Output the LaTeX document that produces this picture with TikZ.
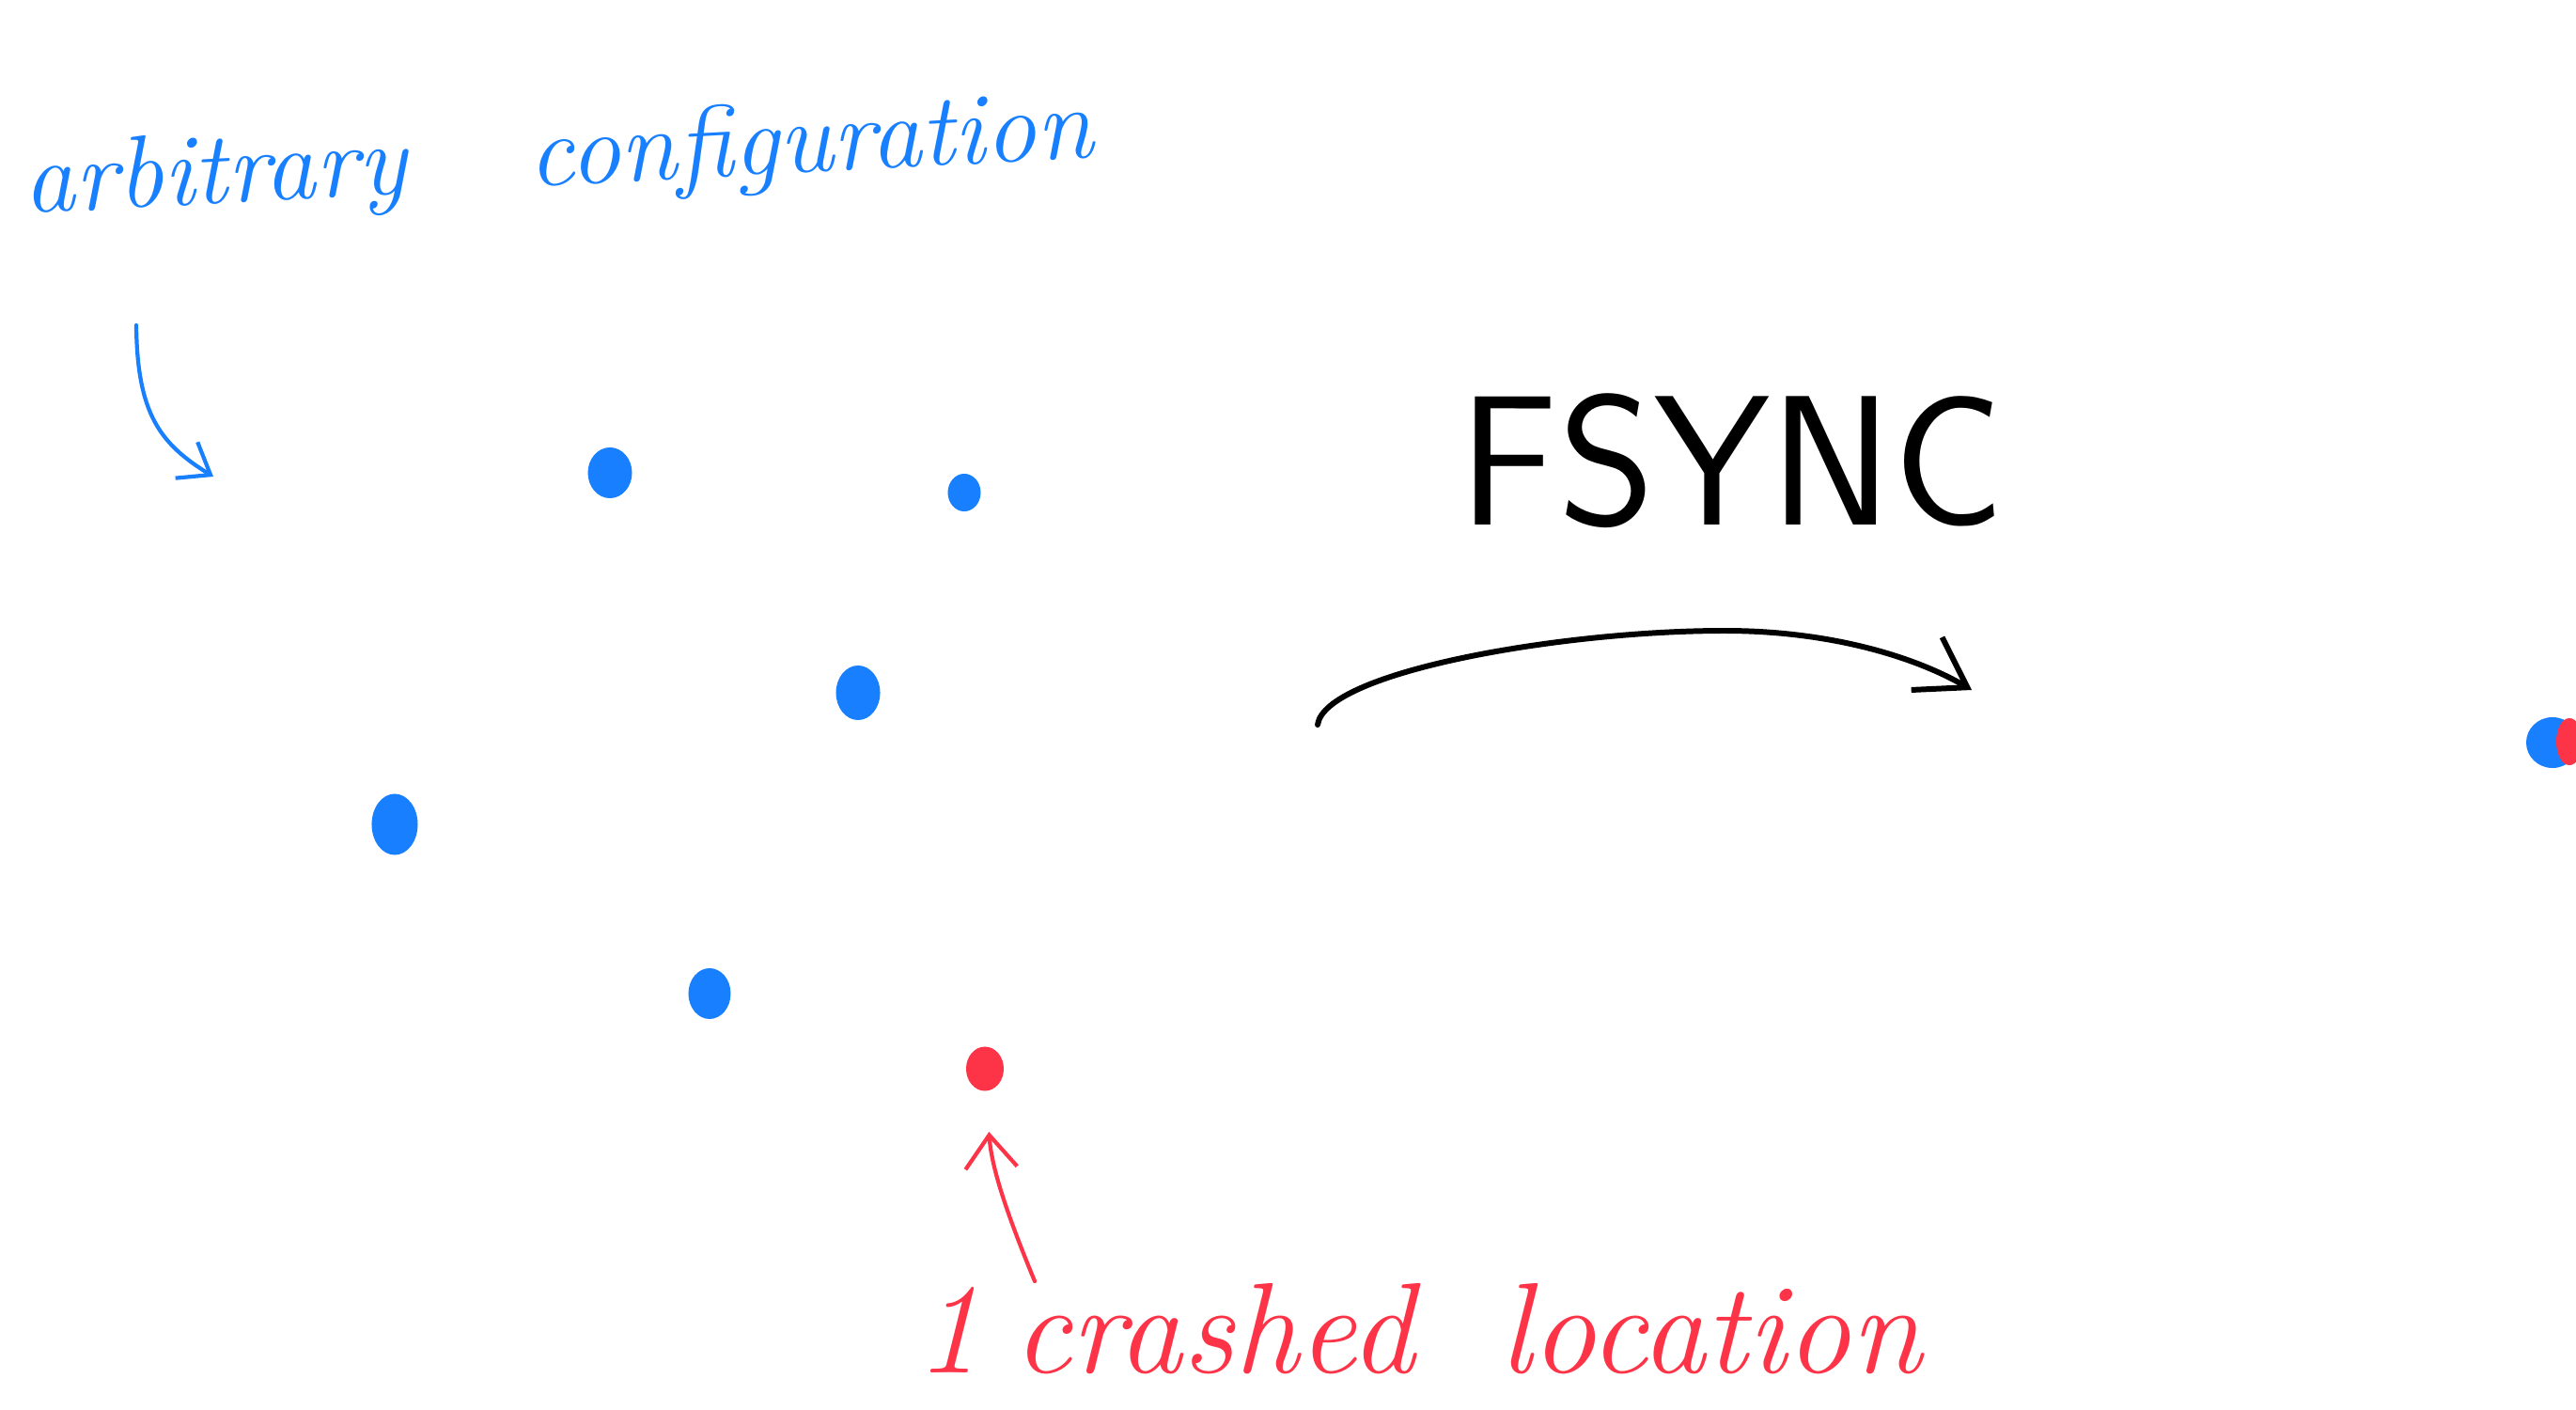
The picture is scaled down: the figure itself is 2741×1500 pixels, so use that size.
\documentclass[tikz,border=0pt]{standalone}
\usepackage{fontspec}
\usepackage{tikz}
\usetikzlibrary{arrows.meta, shapes.geometric}
\definecolor{myblue}{RGB}{24,128,255}
\definecolor{myred}{RGB}{253,52,72}
\definecolor{mydark}{RGB}{0,0,0}
\tikzset{
  robot/.style={ellipse, fill=myblue, inner sep=0pt, minimum width=0.47cm, minimum height=0.54cm},
  lbl/.style={inner sep=0pt, font=\itshape},
  bluearrow/.style={-{Straight Barb[length=3mm, width=4.5mm]}, line width=1.2pt, line cap=round, color=myblue},
  redarrow/.style={-{Straight Barb[length=3.5mm, width=5.5mm]}, line width=1.2pt, line cap=round, color=myred},
  syncarrow/.style={-{Straight Barb[length=5mm, width=6.5mm]}, line width=1.7pt, line cap=round, color=mydark}
}

\begin{document}
\begin{tikzpicture}[x=0.01cm, y=-0.01cm]
  \useasboundingbox (0,0) rectangle (2741,1500);

  % Labels
  \node[lbl, text=myblue, rotate=3, anchor=base west] (cfglabel) at (26,227)
    {\fontsize{31}{36}\selectfont arbitrary\hspace{1.3cm}configuration};
  \node[lbl, text=mydark, font=\sffamily\fontsize{56}{60}\selectfont, anchor=base west] (fsynclabel) at (1552,558) {FSYNC};
  \node[lbl, text=myred, anchor=base west] (crashlabel) at (974,1460)
    {\fontsize{39}{44}\selectfont 1\hspace{0.35cm}crashed\hspace{0.9cm}location};

  % Initial configuration
  \node[robot] (r1) at (649,503) {};
  \node[robot, minimum width=0.35cm, minimum height=0.4cm] (r2) at (1026,524) {};
  \node[robot, minimum height=0.58cm] (r3) at (913,737) {};
  \node[robot, minimum width=0.49cm, minimum height=0.65cm] (r4) at (420,877) {};
  \node[robot, minimum width=0.45cm] (r5) at (755,1057) {};
  \node[robot, fill=myred, minimum width=0.4cm, minimum height=0.47cm] (crashdot) at (1048,1137) {};

  % Gathered robots at the right border
  \begin{scope}
    \clip (0,0) rectangle (2741,1500);
    \node[robot, minimum width=0.56cm, minimum height=0.54cm] (gather) at (2716,790) {};
    \fill[myred] (2734,789) ellipse (0.14cm and 0.25cm);
  \end{scope}

  % Arrows
  \coordinate (cfgtail) at (145,346);
  \coordinate (cfghead) at (227,507);
  \draw[bluearrow] (cfgtail) .. controls (146,440) and (170,472) .. (cfghead);

  \coordinate (crashtail) at (1101,1363);
  \draw[redarrow, shorten >=0.43cm] (crashtail) .. controls (1075,1300) and (1055,1245) .. (crashdot);

  \coordinate (syncstart) at (1402,771);
  \coordinate (syncend) at (2098,734);
  \draw[syncarrow] (syncstart) .. controls (1410,715) and (1660,671) .. (1835,671)
    .. controls (1950,671) and (2040,700) .. (syncend);
\end{tikzpicture}
\end{document}
